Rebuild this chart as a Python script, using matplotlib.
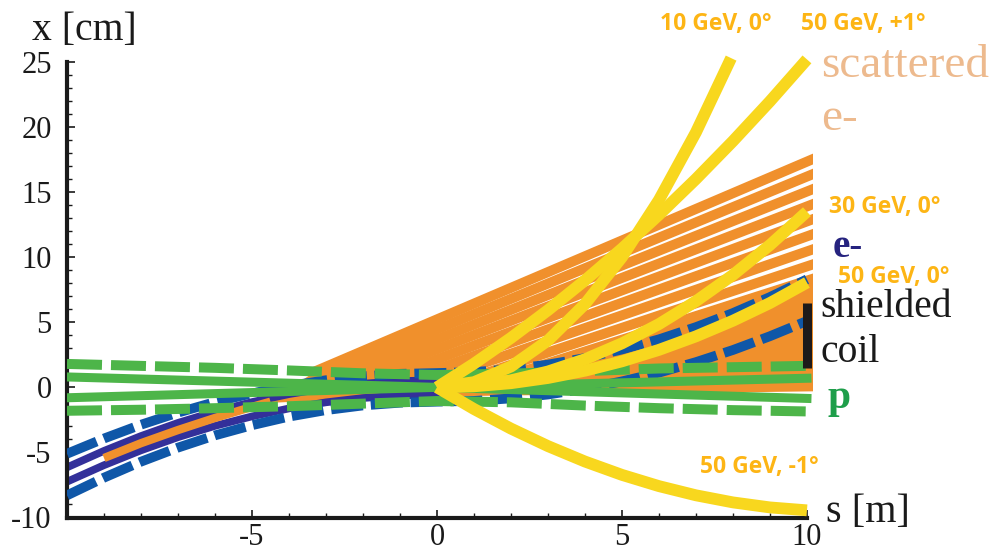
import matplotlib
matplotlib.use('Agg')
import matplotlib.pyplot as plt
from matplotlib.patches import Polygon

plt.rcParams['axes.unicode_minus'] = False

# ---------------- data (s in m, x in cm) ----------------
s_grid = [-10, -9, -8, -7, -6, -5, -4, -3, -2, -1, 0, 1, 2, 3, 4, 5, 6, 7, 8, 9, 10]

# electron beam: dashed envelope
e_env_top = [-5.1, -3.93, -2.87, -1.94, -1.13, -0.46, 0.11, 0.55, 0.85, 1.04, 1.1,
             1.18, 1.39, 1.75, 2.25, 2.91, 3.69, 4.63, 5.71, 6.94, 8.3]
e_env_bot = [-8.3, -6.94, -5.71, -4.63, -3.69, -2.91, -2.25, -1.75, -1.39, -1.18, -1.1,
             -1.04, -0.85, -0.55, -0.11, 0.46, 1.13, 1.94, 2.87, 3.93, 5.1]
# electron beam: solid core (visible on the incoming side)
core_s = [-10, -9, -8, -7, -6, -5, -4, -3, -2, -1, 0]
e_core_top = [-6.15, -4.88, -3.74, -2.73, -1.86, -1.13, -0.52, -0.05, 0.28, 0.48, 0.55]
e_core_bot = [-7.25, -5.98, -4.84, -3.83, -2.96, -2.23, -1.62, -1.15, -0.82, -0.62, -0.55]

# proton beam: dashed envelope and two solid lines
p_s = [-10, -8, -6, -4, -2, 0, 2, 4, 6, 8, 10]
p_env_top = [1.8, 1.65, 1.5, 1.3, 1.08, 0.95, 1.05, 1.25, 1.45, 1.55, 1.65]
p_env_bot = [-1.8, -1.72, -1.6, -1.45, -1.25, -1.05, -1.15, -1.4, -1.6, -1.75, -1.85]
p_line_s = [-10, 0, 10]
p_line_a = [0.8, 0.0, -0.85]
p_line_b = [-0.8, 0.0, 0.7]

# scattered electrons
band_s = [-9, -8, -7, -6, -5, -4.5]
band_x = [-5.43, -4.29, -3.28, -2.35, -1.5, -1.1]
fan_s = [-4.6, -3.4, 1.3, 10.3, 10.3, 0.0, -3.0]
fan_x = [-1.2, 1.0, 0.5, 8.47, -0.3, -0.7, -1.0]
track_s0 = [-3.4, -3.4, -2.98, -2.39, -1.75, -1.07, -0.33, 0.48, 1.3]
track_x0 = [1.10, 0.46, 0.3, 0.3, 0.3, 0.3, 0.3, 0.3, 0.3]
track_s1 = 10.3
track_x1 = [17.71, 16.55, 15.39, 14.23, 13.07, 11.91, 10.74, 9.58, 8.47]

# yellow trajectories from the interaction point
y10_s = [0, 1, 2, 3, 4, 5, 6, 7, 7.95]
y10_x = [0, 0.4, 1.6, 3.6, 6.4, 10.0, 14.4, 19.6, 25.3]
y_s = [0, 1, 2, 3, 4, 5, 6, 7, 8, 9, 10]
y30_x = [0, 0.135, 0.54, 1.22, 2.16, 3.38, 4.86, 6.62, 8.64, 10.94, 13.5]
y50_x = [0, 0.08, 0.32, 0.72, 1.28, 2.0, 2.88, 3.92, 5.12, 6.48, 8.05]
y50p_x = [0, 1.82, 3.80, 5.93, 8.22, 10.66, 13.26, 16.01, 18.92, 21.98, 25.2]
y50m_x = [0, -1.665, -3.17, -4.515, -5.7, -6.725, -7.59, -8.295, -8.84, -9.225, -9.45]

coil_s = [10.0, 10.0]
coil_x = [1.5, 6.5]

x_ticks = [-10, -5, 0, 5, 10]
x_ticklabels = ['', '-5', '0', '5', '10']
y_ticks = [-10, -5, 0, 5, 10, 15, 20, 25]
y_ticklabels = ['-10', '-5', '0', '5', '10', '15', '20', '25']

# ---------------- style ----------------
ORANGE = '#F0902C'
YELLOW = '#F8D71E'
GREEN = '#4DB549'
BLUE = '#0F57A8'
PURPLE = '#33309A'
LABEL_Y = '#FDB515'
SERIF = 'Liberation Serif'

W, H = 993, 553
fig = plt.figure(figsize=(W / 100, H / 100), dpi=100)
ax = fig.add_axes([67 / W, (H - 517.5) / H, (812.5 - 67) / W, (517.5 - 62) / H])
ax.set_xlim(-10, 10.15)
ax.set_ylim(-10, 25)

# scattered electron fan
ax.add_patch(Polygon(list(zip(fan_s, fan_x)), closed=True, facecolor=ORANGE,
                     edgecolor='none', zorder=1))
for s0, x0, x1 in zip(track_s0, track_x0, track_x1):
    ax.plot([s0, track_s1], [x0, x1], color=ORANGE, lw=7.2, solid_capstyle='butt', zorder=1.2)

# electron beam core
ax.plot(core_s, e_core_top, color=PURPLE, lw=5.5, zorder=2)
ax.plot(core_s, e_core_bot, color=PURPLE, lw=5.5, zorder=2)
ax.plot(band_s, band_x, color=ORANGE, lw=6, solid_capstyle='butt', zorder=2.3)

# electron beam envelope
for env in (e_env_top, e_env_bot):
    ax.plot(s_grid, env, color=BLUE, lw=7, linestyle=(0, (3.3, 0.8)),
            dash_capstyle='butt', zorder=3)

# proton beam
for env in (p_env_top, p_env_bot):
    ax.plot(p_s, env, color=GREEN, lw=7.2, linestyle=(0, (3.5, 0.9)),
            dash_capstyle='butt', zorder=4)
ax.plot(p_line_s, p_line_a, color=GREEN, lw=6.5, zorder=4.2)
ax.plot(p_line_s, p_line_b, color=GREEN, lw=6.5, zorder=4.2)

# yellow trajectories
for xs, ys in ((y10_s, y10_x), (y_s, y30_x), (y_s, y50_x), (y_s, y50p_x), (y_s, y50m_x)):
    ax.plot(xs, ys, color=YELLOW, lw=8.5, solid_capstyle='butt',
            solid_joinstyle='round', zorder=5, clip_on=False)

# shielded coil
ax.plot(coil_s, coil_x, color='#1E1A1A', lw=6.5, solid_capstyle='butt', zorder=6, clip_on=False)

# axes style
for sp in ('top', 'right'):
    ax.spines[sp].set_visible(False)
for sp in ('left', 'bottom'):
    ax.spines[sp].set_linewidth(3)
    ax.spines[sp].set_color('#1a1a1a')
ax.spines['left'].set_bounds(-10, 25)
ax.spines['bottom'].set_bounds(-10, 10)
ax.set_xticks(x_ticks)
ax.set_xticklabels(x_ticklabels)
ax.set_yticks(y_ticks)
ax.set_yticklabels(y_ticklabels)
ax.set_xticks(range(-10, 11), minor=True)
ax.set_yticks(range(-10, 26), minor=True)
ax.tick_params(which='major', direction='in', length=6, width=1.2, color='#1a1a1a')
ax.tick_params(which='minor', direction='in', length=3.5, width=1.0, color='#1a1a1a')
ax.tick_params(axis='y', which='major', pad=11)
ax.tick_params(axis='x', which='major', pad=4)
for lab in ax.get_xticklabels() + ax.get_yticklabels():
    lab.set_fontfamily(SERIF)
    lab.set_fontsize(22)
    lab.set_color('#1a1a1a')


def ftext(px, py, txt, **kw):
    fig.text(px / W, 1 - py / H, txt, **kw)


ftext(32, 40, 'x [cm]', fontsize=28.5, family=SERIF, color='#1a1a1a', va='baseline')
ftext(826, 522, 's [m]', fontsize=29, family=SERIF, color='#1a1a1a', va='baseline')
ftext(821, 77, 'scattered', fontsize=34, family=SERIF, color='#EDBA8E', va='baseline')
ftext(821, 130, 'e-', fontsize=34, family=SERIF, color='#EDBA8E', va='baseline')
ftext(833, 257, 'e-', fontsize=28, family=SERIF, weight='bold', color='#26237F', va='baseline')
ftext(820, 317, 'shielded', fontsize=28.5, family=SERIF, color='#1a1a1a', va='baseline')
ftext(820, 362, 'coil', fontsize=28.5, family=SERIF, color='#1a1a1a', va='baseline')
ftext(828, 408, 'p', fontsize=30, family=SERIF, weight='bold', color='#1E9E4A', va='baseline')

gev_kw = dict(fontsize=16.5, family='Open Sans', weight='bold', color=LABEL_Y, va='center')
ftext(660, 24, '10 GeV, 0°', **gev_kw)
ftext(801, 24, '50 GeV, +1°', **gev_kw)
ftext(829, 207, '30 GeV, 0°', **gev_kw)
ftext(838, 277, '50 GeV, 0°', **gev_kw)
ftext(700, 467, '50 GeV, -1°', **gev_kw)

fig.savefig('out.png', dpi=100, facecolor='white')
